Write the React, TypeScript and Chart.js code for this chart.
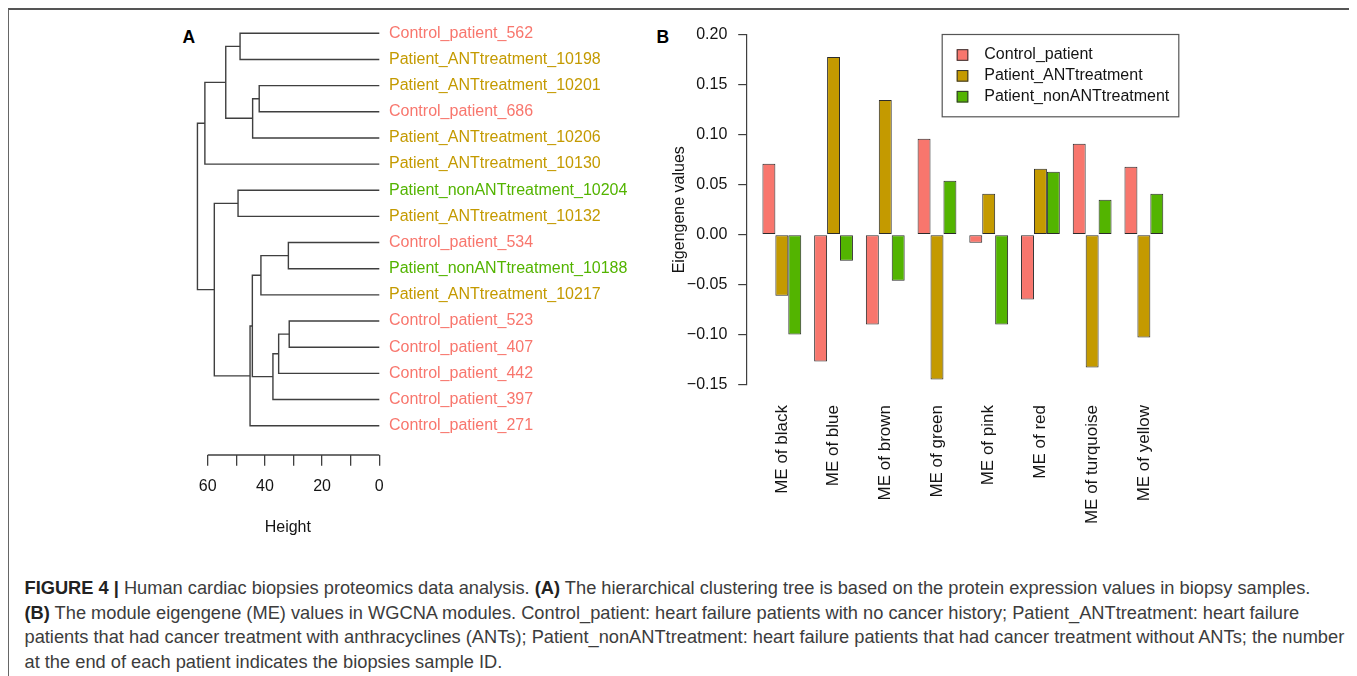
import React, { useEffect, useRef } from 'react';
import { Chart, registerables } from 'chart.js';

Chart.register(...registerables);

const FONT = "'Liberation Sans', Arial, Helvetica, sans-serif";
Chart.defaults.font.family = FONT;
Chart.defaults.font.size = 16;

// ---------- Panel A: hierarchical clustering tree ----------
const leafLabels = [
  'Control_patient_562',
  'Patient_ANTtreatment_10198',
  'Patient_ANTtreatment_10201',
  'Control_patient_686',
  'Patient_ANTtreatment_10206',
  'Patient_ANTtreatment_10130',
  'Patient_nonANTtreatment_10204',
  'Patient_ANTtreatment_10132',
  'Control_patient_534',
  'Patient_nonANTtreatment_10188',
  'Patient_ANTtreatment_10217',
  'Control_patient_523',
  'Control_patient_407',
  'Control_patient_442',
  'Control_patient_397',
  'Control_patient_271',
];
// 0 = Control_patient, 1 = Patient_ANTtreatment, 2 = Patient_nonANTtreatment
const leafGroups = [0, 1, 1, 0, 1, 1, 2, 1, 0, 2, 1, 0, 0, 0, 0, 0];
// hclust-style merge table: negative = leaf (1-based, display order), positive = earlier merge
const mergeLeft = [-1, -3, 2, 1, 4, -7, -9, 7, -12, 9, 10, 8, 12, 6, 5];
const mergeRight = [-2, -4, -5, 3, -6, -8, -10, -11, -13, -14, -15, 11, -16, 13, 14];
const mergeHeight = [48.7, 42.0, 44.3, 53.7, 61.0, 49.4, 31.8, 41.4, 31.5, 35.2, 37.2, 44.4, 45.2, 57.7, 63.6];
const heightLabelTicks = [0, 20, 40, 60];

// ---------- Panel B: module eigengenes ----------
const groupNames = ['Control_patient', 'Patient_ANTtreatment', 'Patient_nonANTtreatment'];
const groupColors = ['#F8766D', '#C49A00', '#53B400'];
const moduleNames = [
  'ME of black', 'ME of blue', 'ME of brown', 'ME of green',
  'ME of pink', 'ME of red', 'ME of turquoise', 'ME of yellow',
];
const controlValues = [0.071, -0.127, -0.090, 0.096, -0.008, -0.065, 0.091, 0.068];
const antValues = [-0.061, 0.178, 0.135, -0.145, 0.041, 0.066, -0.133, -0.103];
const nonAntValues = [-0.100, -0.026, -0.046, 0.054, -0.090, 0.063, 0.035, 0.041];
const seriesValues = [controlValues, antValues, nonAntValues];

const TEXT = '#141414';
const LINE = '#3f3f3f';

// draws an R-style axis line running from the first to the last tick
const rAxisLine = {
  id: 'rAxisLine',
  afterDraw(chart: any) {
    const s = chart.scales.x;
    const t = s.ticks;
    if (!t.length) return;
    const x1 = s.getPixelForValue(t[0].value);
    const x2 = s.getPixelForValue(t[t.length - 1].value);
    const ctx = chart.ctx;
    ctx.save();
    ctx.strokeStyle = LINE;
    ctx.lineWidth = 1.3;
    ctx.beginPath();
    ctx.moveTo(x1, s.top);
    ctx.lineTo(x2, s.top);
    ctx.stroke();
    ctx.restore();
  },
};

// boxed legend in the top-right corner of the plot region
const boxLegend = {
  id: 'boxLegend',
  afterDraw(chart: any) {
    const { ctx, chartArea } = chart;
    const right = chartArea.right;
    const top = chartArea.top - 1;
    const w = 237.6;
    const h = 83.3;
    const left = right - w;
    ctx.save();
    ctx.fillStyle = '#fff';
    ctx.fillRect(left, top, w, h);
    ctx.strokeStyle = '#555';
    ctx.lineWidth = 1.2;
    ctx.strokeRect(left + 0.5, top + 0.5, w - 1, h - 1);
    ctx.font = `16px ${FONT}`;
    ctx.textBaseline = 'middle';
    ctx.textAlign = 'left';
    chart.data.datasets.forEach((ds: any, i: number) => {
      const cy = top + 21 + i * 20.85;
      ctx.fillStyle = ds.backgroundColor;
      ctx.fillRect(left + 15, cy - 5.8, 11.6, 11.6);
      ctx.strokeStyle = '#333';
      ctx.lineWidth = 1;
      ctx.strokeRect(left + 15.5, cy - 5.3, 10.6, 10.6);
      ctx.fillStyle = TEXT;
      ctx.fillText(ds.label, left + 42.6, cy);
    });
    ctx.restore();
  },
};

function DendroChart() {
  const ref = useRef<HTMLCanvasElement>(null);
  useEffect(() => {
    const nodes: { x: number; y: number }[] = [];
    const pos = (id: number) => (id < 0 ? { x: 0, y: -id - 1 } : nodes[id - 1]);
    const datasets = mergeHeight.map((hgt, k) => {
      const a = pos(mergeLeft[k]);
      const b = pos(mergeRight[k]);
      nodes.push({ x: hgt, y: (a.y + b.y) / 2 });
      return {
        data: [
          { x: a.x, y: a.y },
          { x: hgt, y: a.y },
          { x: hgt, y: b.y },
          { x: b.x, y: b.y },
        ],
        showLine: true,
        borderColor: LINE,
        borderWidth: 1.4,
        pointRadius: 0,
        tension: 0,
        clip: false,
      };
    });
    const chart = new Chart(ref.current as HTMLCanvasElement, {
      type: 'scatter',
      data: { datasets },
      options: {
        animation: false,
        responsive: false,
        events: [],
        layout: { padding: { left: 46.3, top: 10.2, right: 0, bottom: 0 } },
        plugins: { legend: { display: false }, tooltip: { enabled: false } },
        scales: {
          x: {
            type: 'linear',
            reverse: true,
            min: 0,
            max: 64,
            border: { display: false },
            grid: { drawOnChartArea: false, drawTicks: true, tickLength: 10.7, color: LINE, lineWidth: 1.3 },
            ticks: {
              stepSize: 10,
              includeBounds: false,
              autoSkip: false,
              maxRotation: 0,
              padding: 11.4,
              color: TEXT,
              font: { size: 16 },
              callback: (v: any) => (heightLabelTicks.includes(v) ? String(v) : ''),
            },
            title: { display: true, text: 'Height', color: TEXT, font: { size: 16 }, padding: { top: 0, bottom: 12.4 } },
            afterFit: (s: any) => { s.height = 95; },
          },
          y: {
            type: 'linear',
            position: 'right',
            reverse: true,
            min: -0.5,
            max: 16.12,
            border: { display: false },
            grid: { display: false, drawTicks: true, tickLength: 9.7 },
            ticks: {
              stepSize: 1,
              includeBounds: false,
              autoSkip: false,
              padding: 0,
              font: { size: 16 },
              color: (c: any) => groupColors[leafGroups[c.tick ? c.tick.value : 0]] || TEXT,
              callback: (v: any) => leafLabels[v] ?? '',
            },
            afterFit: (s: any) => { s.width = 260.7; },
          },
        },
      } as any,
      plugins: [rAxisLine],
    });
    return () => chart.destroy();
  }, []);
  return (
    <canvas
      ref={ref}
      width={490}
      height={540}
      style={{ position: 'absolute', left: 142, top: 2, width: 490, height: 540 }}
    />
  );
}

function BarChart() {
  const ref = useRef<HTMLCanvasElement>(null);
  useEffect(() => {
    const fmt = (v: number) => {
      const s = (Math.abs(v) < 1e-9 ? 0 : v).toFixed(2);
      return s.replace('-', '\u2212');
    };
    const chart = new Chart(ref.current as HTMLCanvasElement, {
      type: 'bar',
      data: {
        datasets: seriesValues.map((vals, i) => ({
          label: groupNames[i],
          data: vals.map((v, j) => ({ x: j, y: v })),
          backgroundColor: groupColors[i],
          borderColor: '#2b2b2b',
          borderWidth: 1,
          borderSkipped: false,
          categoryPercentage: 0.75,
          barPercentage: 1,
        })),
      },
      options: {
        animation: false,
        responsive: false,
        events: [],
        layout: { padding: { left: 0, top: 25, right: 10.7, bottom: 0 } },
        plugins: { legend: { display: false }, tooltip: { enabled: false } },
        scales: {
          x: {
            type: 'linear',
            min: -0.685,
            max: 7.685,
            offset: false,
            border: { display: false },
            grid: { display: false, drawTicks: false, offset: false },
            ticks: {
              stepSize: 1,
              includeBounds: false,
              autoSkip: false,
              minRotation: 90,
              maxRotation: 90,
              padding: 20.5,
              color: TEXT,
              font: { size: 17 },
              callback: (v: any) => moduleNames[v] ?? '',
            },
            afterFit: (s: any) => { s.height = 165.5; },
          },
          y: {
            type: 'linear',
            min: -0.15,
            max: 0.2,
            border: { display: true, color: LINE, width: 1.2 },
            grid: { drawOnChartArea: false, drawTicks: true, tickLength: 8.2, color: LINE, lineWidth: 1.2 },
            ticks: {
              stepSize: 0.05,
              padding: 10.9,
              color: TEXT,
              font: { size: 16 },
              callback: (v: any) => fmt(v),
            },
            title: {
              display: true,
              text: 'Eigengene values',
              color: TEXT,
              font: { size: 16 },
              padding: { top: 19.7, bottom: 0 },
            },
            afterFit: (s: any) => { s.width = 96.4; },
          },
        },
      } as any,
      plugins: [boxLegend],
    });
    return () => chart.destroy();
  }, []);
  return (
    <canvas
      ref={ref}
      width={540}
      height={540}
      style={{ position: 'absolute', left: 642, top: 2, width: 540, height: 540 }}
    />
  );
}

export default function App() {
  useEffect(() => {
    document.documentElement.style.overflow = 'hidden';
    document.body.style.marginBottom = '0px';
  }, []);
  const panelLabel: React.CSSProperties = {
    position: 'absolute',
    fontWeight: 'bold',
    fontSize: 17.5,
    lineHeight: '20px',
    color: '#000',
  };
  const line: React.CSSProperties = { whiteSpace: 'nowrap', height: 24.6 };
  return (
    <div style={{ position: 'relative', width: 1349, height: 668, overflow: 'hidden', fontFamily: FONT }}>
      <div
        style={{
          position: 'absolute',
          left: 0,
          top: 0,
          width: 1349,
          height: 668,
          boxSizing: 'border-box',
          borderTop: '2px solid #555',
          borderLeft: '1px solid #666',
          borderRight: '2px solid #555',
        }}
      />
      <div style={{ ...panelLabel, left: 174.5, top: 18.5 }}>A</div>
      <div style={{ ...panelLabel, left: 648.5, top: 18.5 }}>B</div>
      <DendroChart />
      <BarChart />
      <div
        style={{
          position: 'absolute',
          left: 16.5,
          top: 568,
          fontSize: 18.25,
          lineHeight: '24.6px',
          color: '#3c3c3c',
        }}
      >
        <div style={line}>
          <b style={{ color: '#222' }}>FIGURE 4 |</b> Human cardiac biopsies proteomics data analysis.{' '}
          <b style={{ color: '#222' }}>(A)</b> The hierarchical clustering tree is based on the protein expression values in biopsy samples.
        </div>
        <div style={line}>
          <b style={{ color: '#222' }}>(B)</b> The module eigengene (ME) values in WGCNA modules. Control_patient: heart failure patients with no cancer history; Patient_ANTtreatment: heart failure
        </div>
        <div style={line}>
          patients that had cancer treatment with anthracyclines (ANTs); Patient_nonANTtreatment: heart failure patients that had cancer treatment without ANTs; the number
        </div>
        <div style={line}>at the end of each patient indicates the biopsies sample ID.</div>
      </div>
    </div>
  );
}
